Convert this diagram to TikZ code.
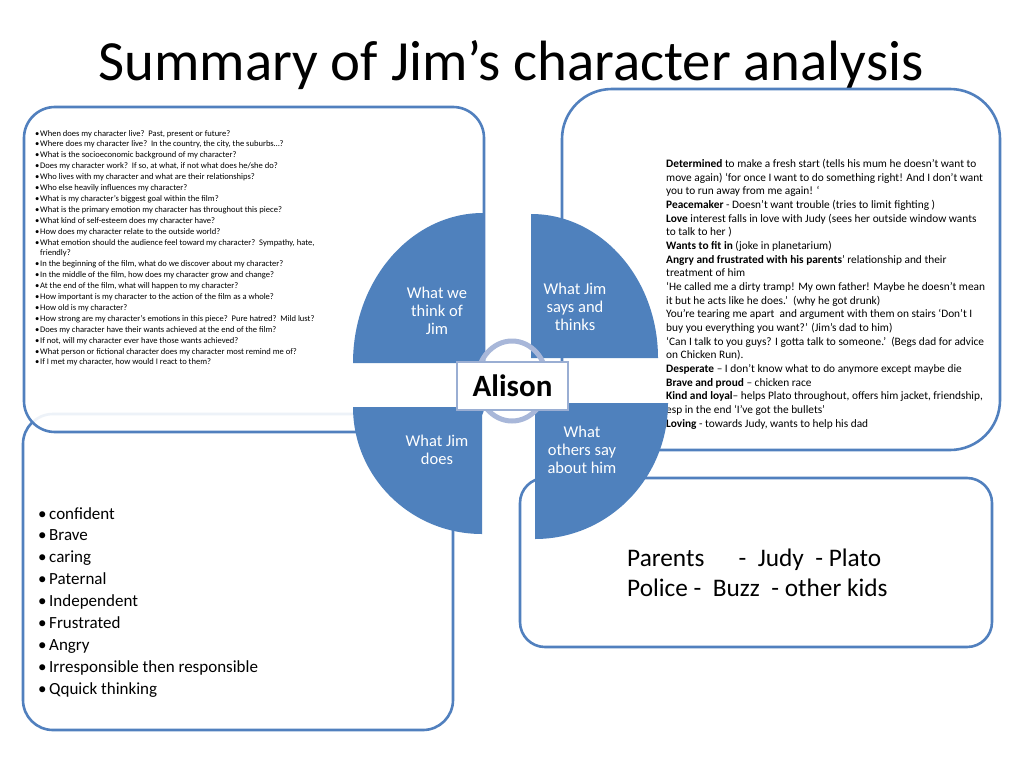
\documentclass[tikz,border=0pt]{standalone}
\usepackage{fontspec}
\setmainfont{Carlito}
\definecolor{qblue}{HTML}{4F81BD}
\definecolor{bline}{HTML}{5180BE}
\definecolor{ringc}{HTML}{A8B7D9}
\definecolor{abox}{HTML}{9AAED3}
\begin{document}
\begin{tikzpicture}[x=1pt,y=-1pt,
  panel/.style={draw=bline, line width=2.6pt, fill=white},
  quad/.style={fill=qblue, draw=none},
  qlabel/.style={text=white, font=\fontsize{16.5}{18}\selectfont, align=center, inner sep=0},
  tltxt/.style={anchor=base west, inner sep=0, font=\fontsize{8.55}{10.9}\selectfont},
  trtxt/.style={anchor=base west, inner sep=0, font=\fontsize{11.35}{13.7}\selectfont},
  bltxt/.style={anchor=base west, inner sep=0, font=\fontsize{17}{22}\selectfont},
  brtxt/.style={anchor=base west, inner sep=0, font=\fontsize{25.3}{30}\selectfont}]
\useasboundingbox (0,0) rectangle (1024,768);
\fill[white] (0,0) rectangle (1024,768);

% title
\node[anchor=base, inner sep=0, font=\fontsize{56.8}{60}\selectfont] (title) at (511,81) {Summary of Jim’s character analysis};

% panels
\draw[panel, rounded corners=30pt] (23,414) rectangle (453,730);
\draw[panel, fill opacity=0.9, rounded corners=31pt] (24,107) rectangle (484,432);
\draw[panel, rounded corners=50pt] (562,89) rectangle (1000,450);
\draw[panel, rounded corners=25pt] (520,478) rectangle (992,647);

% top-left questions
\foreach \t [count=\i] in {
  {\makebox[5pt][l]{•}When does my character live?\ \ Past, present or future?},
  {\makebox[5pt][l]{•}Where does my character live?\ \ In the country, the city, the suburbs…?},
  {\makebox[5pt][l]{•}What is the socioeconomic background of my character?},
  {\makebox[5pt][l]{•}Does my character work?\ \ If so, at what, if not what does he/she do?},
  {\makebox[5pt][l]{•}Who lives with my character and what are their relationships?},
  {\makebox[5pt][l]{•}Who else heavily influences my character?},
  {\makebox[5pt][l]{•}What is my character’s biggest goal within the film?},
  {\makebox[5pt][l]{•}What is the primary emotion my character has throughout this piece?},
  {\makebox[5pt][l]{•}What kind of self-esteem does my character have?},
  {\makebox[5pt][l]{•}How does my character relate to the outside world?},
  {\makebox[5pt][l]{•}What emotion should the audience feel toward my character?\ \ Sympathy, hate,},
  {\makebox[5pt][l]{}friendly?},
  {\makebox[5pt][l]{•}In the beginning of the film, what do we discover about my character?},
  {\makebox[5pt][l]{•}In the middle of the film, how does my character grow and change?},
  {\makebox[5pt][l]{•}At the end of the film, what will happen to my character?},
  {\makebox[5pt][l]{•}How important is my character to the action of the film as a whole?},
  {\makebox[5pt][l]{•}How old is my character?},
  {\makebox[5pt][l]{•}How strong are my character’s emotions in this piece?\ \ Pure hatred?\ \ Mild lust?},
  {\makebox[5pt][l]{•}Does my character have their wants achieved at the end of the film?},
  {\makebox[5pt][l]{•}If not, will my character ever have those wants achieved?},
  {\makebox[5pt][l]{•}What person or fictional character does my character most remind me of?},
  {\makebox[5pt][l]{•}If I met my character, how would I react to them?}}
  \node[tltxt] (tl\i) at (35,{136+10.9*(\i-1)}) {\t};

% top-right text
\foreach \t [count=\i] in {
  {\textbf{Determined} to make a fresh start (tells his mum he doesn’t want to},
  {move again) ‘for once I want to do something right! And I don't want},
  {you to run away from me again! ‘},
  {\textbf{Peacemaker} - Doesn’t want trouble (tries to limit fighting )},
  {\textbf{Love} interest falls in love with Judy (sees her outside window wants},
  {to talk to her )},
  {\textbf{Wants to fit in} (joke in planetarium)},
  {\textbf{Angry and frustrated with his parents}’ relationship and their},
  {treatment of him},
  {‘He called me a dirty tramp! My own father! Maybe he doesn’t mean},
  {it but he acts like he does.’\ \ (why he got drunk)},
  {You’re tearing me apart\ \ and argument with them on stairs ‘Don’t I},
  {buy you everything you want?’ (Jim’s dad to him)},
  {‘Can I talk to you guys? I gotta talk to someone.’\ \ (Begs dad for advice},
  {on Chicken Run).},
  {\textbf{Desperate} – I don’t know what to do anymore except maybe die},
  {\textbf{Brave and proud} – chicken race},
  {\textbf{Kind and loyal}– helps Plato throughout, offers him jacket, friendship,},
  {esp in the end ‘I’ve got the bullets’},
  {\textbf{Loving} - towards Judy, wants to help his dad}}
  \node[trtxt] (tr\i) at (666,{167.6+13.67*(\i-1)}) {\t};

% bottom-left list
\foreach \t [count=\i] in {confident, Brave, caring, Paternal, Independent, Frustrated, Angry, Irresponsible then responsible, Qquick thinking}
  \node[bltxt] (bl\i) at (38,{519+21.9*(\i-1)}) {\makebox[11pt][l]{•}\t};

% bottom-right text
\node[brtxt] (br1) at (627,566) {Parents\ \ \ \ \ \ -\ \ Judy\ \ - Plato};
\node[brtxt] (br2) at (627,596) {Police -\ \ Buzz\ \ - other kids};

% quadrants
\fill[quad] (483,213) arc[start angle=270, end angle=180, x radius=130, y radius=150] -- (483,363) -- cycle;
\fill[quad] (531,214) arc[start angle=270, end angle=360, x radius=127, y radius=144] -- (531,358) -- cycle;
\fill[quad] (353,407) arc[start angle=180, end angle=90, x radius=129, y radius=127] -- (482,407) -- cycle;
\fill[quad] (668,403) arc[start angle=0, end angle=90, x radius=133, y radius=136] -- (535,403) -- cycle;

% ring
\draw[ringc, line width=5pt] (512,381) ellipse[x radius=35, y radius=40];

% center box
\node[draw=abox, line width=1.5pt, fill=white, minimum width=111pt, minimum height=48pt, inner sep=0,
      font=\fontsize{31}{34}\selectfont\bfseries] (alison) at (512.5,386) {Alison};

% quadrant labels
\node[qlabel] (q1) at (437,310.5) {What we\\think of\\Jim};
\node[qlabel] (q2) at (575,306.5) {What Jim\\says and\\thinks};
\node[qlabel] (q3) at (437,450) {What Jim\\does};
\node[qlabel] (q4) at (582,449.5) {What\\others say\\about him};
\end{tikzpicture}
\end{document}
